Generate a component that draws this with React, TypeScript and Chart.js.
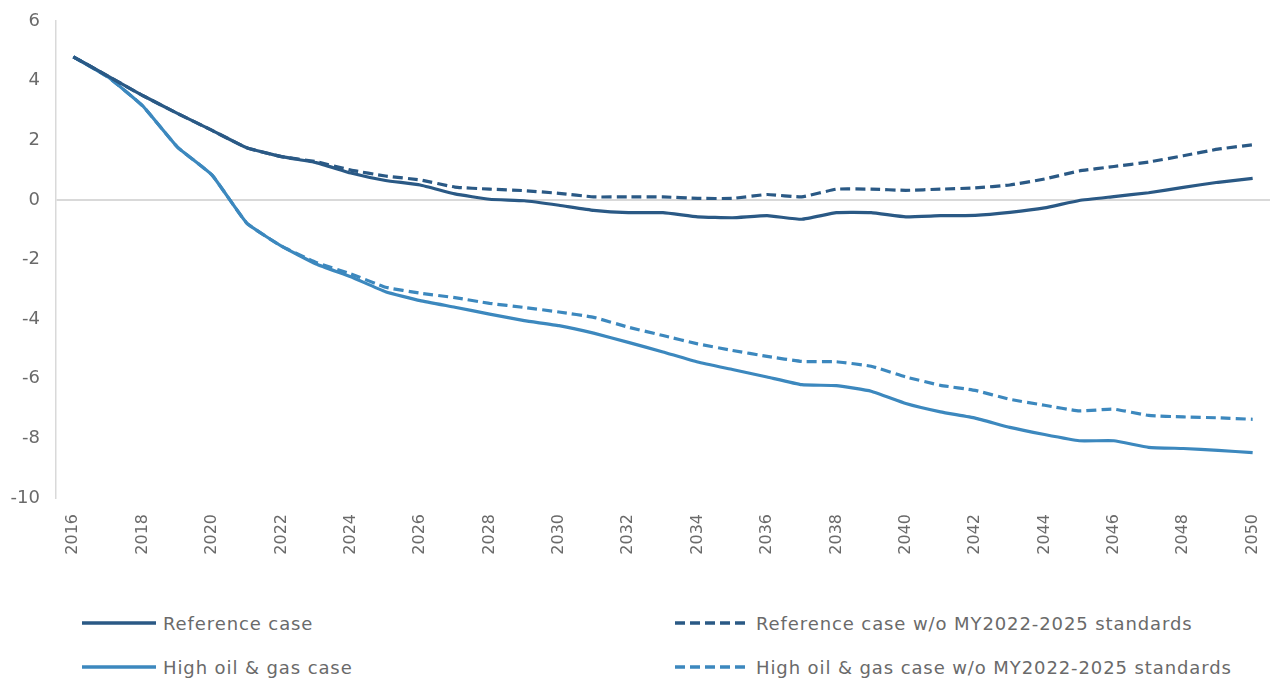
import React, { useEffect, useRef } from "react";
import { Chart, registerables } from "chart.js";

Chart.register(...registerables);

const years: string[] = [];
for (let y = 2016; y <= 2050; y++) years.push(String(y));

const referenceCase = [4.8, 4.15, 3.5, 2.9, 2.33, 1.75, 1.45, 1.25, 0.9, 0.65, 0.5, 0.2, 0.02, -0.03, -0.18, -0.35, -0.43, -0.43, -0.57, -0.6, -0.53, -0.65, -0.43, -0.43, -0.57, -0.53, -0.52, -0.42, -0.27, -0.02, 0.11, 0.24, 0.42, 0.59, 0.72];
const referenceNoStd = [4.8, 4.15, 3.5, 2.9, 2.33, 1.75, 1.45, 1.28, 1.0, 0.8, 0.67, 0.43, 0.36, 0.31, 0.22, 0.1, 0.1, 0.1, 0.05, 0.05, 0.18, 0.1, 0.36, 0.36, 0.32, 0.36, 0.4, 0.5, 0.7, 0.97, 1.12, 1.27, 1.48, 1.7, 1.85];
const highOilGas = [4.8, 4.12, 3.15, 1.77, 0.83, -0.78, -1.55, -2.15, -2.58, -3.08, -3.38, -3.6, -3.83, -4.05, -4.22, -4.47, -4.78, -5.1, -5.44, -5.69, -5.94, -6.2, -6.23, -6.42, -6.83, -7.11, -7.32, -7.63, -7.87, -8.08, -8.08, -8.3, -8.34, -8.4, -8.48];
const highOilGasNoStd = [4.8, 4.12, 3.15, 1.77, 0.83, -0.78, -1.55, -2.1, -2.48, -2.93, -3.13, -3.28, -3.47, -3.61, -3.76, -3.94, -4.27, -4.55, -4.83, -5.05, -5.25, -5.42, -5.43, -5.58, -5.94, -6.22, -6.39, -6.69, -6.89, -7.08, -7.02, -7.23, -7.28, -7.31, -7.36];

const yTicks = [6, 4, 2, 0, -2, -4, -6, -8, -10];

const DARK = "#2A5985";
const LIGHT = "#3C88BE";
const TEXT = "#6A6A6A";
const FONT = "'DejaVu Sans', sans-serif";

const legendItems = [
  { label: "Reference case", color: DARK, dashed: false, x: 82, y: 623 },
  { label: "Reference case w/o MY2022-2025 standards", color: DARK, dashed: true, x: 675, y: 623 },
  { label: "High oil & gas case", color: LIGHT, dashed: false, x: 82, y: 667 },
  { label: "High oil & gas case w/o MY2022-2025 standards", color: LIGHT, dashed: true, x: 675, y: 667 },
];

export default function App() {
  const ref = useRef<HTMLCanvasElement | null>(null);

  useEffect(() => {
    if (!ref.current) return;
    const chart = new Chart(ref.current, {
      type: "line",
      data: {
        labels: years,
        datasets: [
          { label: "Reference case", data: referenceCase, borderColor: DARK, borderWidth: 3.2, pointRadius: 0, tension: 0.12 },
          { label: "Reference case w/o MY2022-2025 standards", data: referenceNoStd, borderColor: DARK, borderWidth: 3.2, borderDash: [10, 5], pointRadius: 0, tension: 0.12 },
          { label: "High oil & gas case", data: highOilGas, borderColor: LIGHT, borderWidth: 3.2, pointRadius: 0, tension: 0.12 },
          { label: "High oil & gas case w/o MY2022-2025 standards", data: highOilGasNoStd, borderColor: LIGHT, borderWidth: 3.2, borderDash: [10, 5], pointRadius: 0, tension: 0.12 },
        ],
      },
      options: {
        animation: false,
        responsive: false,
        maintainAspectRatio: false,
        layout: { padding: { top: 21, right: 0, left: 0, bottom: 0 } },
        plugins: { legend: { display: false }, tooltip: { enabled: false } },
        scales: {
          x: {
            offset: true,
            grid: { display: false },
            border: { display: false },
            afterFit: (s: any) => { s.height = 102; s.paddingLeft = 0; s.paddingRight = 0; },
            ticks: {
              autoSkip: false,
              maxRotation: 90,
              minRotation: 90,
              padding: 8,
              color: TEXT,
              font: { family: FONT, size: 16 },
              callback: (_v: any, i: number) => (i % 2 === 0 ? years[i] : ""),
            },
          },
          y: {
            min: -10,
            max: 6,
            afterFit: (s: any) => { s.width = 56; s.paddingTop = 0; s.paddingBottom = 0; },
            afterBuildTicks: (s: any) => { s.ticks = yTicks.map((v) => ({ value: v })); },
            border: { display: true, color: "#D9D9D9", width: 1.5 },
            grid: {
              drawTicks: false,
              color: (c: any) => (c.tick && c.tick.value === 0 ? "#D9D9D9" : "rgba(0,0,0,0)"),
              lineWidth: 2,
            },
            ticks: {
              padding: 16,
              color: TEXT,
              font: { family: FONT, size: 18 },
            },
          },
        },
      },
    });
    return () => chart.destroy();
  }, []);

  return (
    <div style={{ position: "absolute", left: 0, top: 0, width: 1270, height: 679, background: "#fff", fontFamily: FONT }}>
      <canvas ref={ref} width={1270} height={600} style={{ position: "absolute", left: 0, top: 0, width: 1270, height: 600 }} />
      {legendItems.map((it) => (
        <div key={it.label} style={{ position: "absolute", left: it.x, top: it.y - 14, height: 28, display: "flex", alignItems: "center", color: TEXT, fontSize: 18, letterSpacing: "0.9px", whiteSpace: "nowrap" }}>
          <svg width={74} height={6} style={{ marginRight: 7 }}>
            <line x1={0} y1={3} x2={74} y2={3} stroke={it.color} strokeWidth={3.5} strokeDasharray={it.dashed ? "10 5" : undefined} />
          </svg>
          <span>{it.label}</span>
        </div>
      ))}
    </div>
  );
}
